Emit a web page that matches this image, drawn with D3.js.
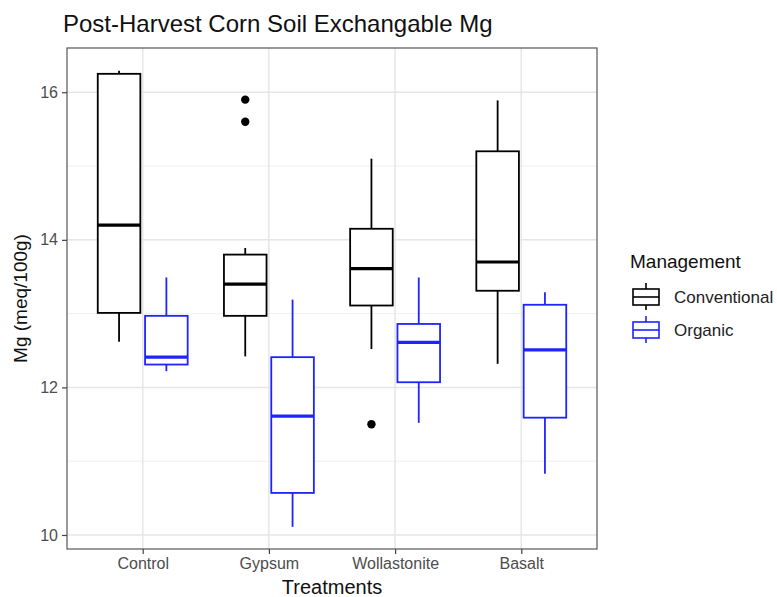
<!DOCTYPE html>
<html>
<head>
<meta charset="utf-8">
<script src="https://cdn.jsdelivr.net/npm/d3@7"></script>
<style>
  body { margin: 0; background: #fff; }
  text { font-family: "Liberation Sans", Arial, sans-serif; }
</style>
</head>
<body>
<svg width="777" height="597"></svg>
<script>
var treatments = ["Control", "Gypsum", "Wollastonite", "Basalt"];
var management = ["Conventional", "Organic"];
var yTicks = [10, 12, 14, 16];
var yMinor = [11, 13, 15];

// [lower whisker, q1, median, q3, upper whisker] per treatment
var conventionalStats = [
  [12.62, 13.01, 14.2, 16.25, 16.29],
  [12.42, 12.97, 13.4, 13.8, 13.89],
  [12.52, 13.11, 13.61, 14.15, 15.1],
  [12.32, 13.31, 13.7, 15.2, 15.89]
];
var organicStats = [
  [12.22, 12.31, 12.41, 12.97, 13.49],
  [10.11, 10.57, 11.61, 12.41, 13.19],
  [11.52, 12.07, 12.61, 12.86, 13.49],
  [10.83, 11.59, 12.51, 13.12, 13.29]
];
var outlierTreatment = ["Gypsum", "Gypsum", "Wollastonite"];
var outlierValue = [15.9, 15.6, 11.5];

var svg = d3.select("svg"),
    pLeft = 67, pRight = 597, pTop = 48, pBottom = 549;

var color = d3.scaleOrdinal()
    .domain(management)
    .range(["#000000", "#1f24ff"]);

var x = d3.scalePoint()
    .domain(treatments)
    .range([pLeft, pRight])
    .padding(0.6);

var dodge = d3.scaleBand()
    .domain(management)
    .range([-0.375 * x.step(), 0.375 * x.step()])
    .paddingInner(0.1)
    .paddingOuter(0.05);

var y = d3.scaleLinear()
    .domain([9.81, 16.6])
    .range([pBottom, pTop]);

// grid
var grid = svg.append("g");
grid.selectAll(".minor").data(yMinor).enter().append("line")
    .attr("x1", pLeft).attr("x2", pRight)
    .attr("y1", function(d) { return y(d); }).attr("y2", function(d) { return y(d); })
    .attr("stroke", "#f0f0f0").attr("stroke-width", 1);
grid.selectAll(".major").data(yTicks).enter().append("line")
    .attr("x1", pLeft).attr("x2", pRight)
    .attr("y1", function(d) { return y(d); }).attr("y2", function(d) { return y(d); })
    .attr("stroke", "#e6e6e6").attr("stroke-width", 1.5);
grid.selectAll(".vmajor").data(treatments).enter().append("line")
    .attr("y1", pTop).attr("y2", pBottom)
    .attr("x1", function(d) { return x(d); }).attr("x2", function(d) { return x(d); })
    .attr("stroke", "#e6e6e6").attr("stroke-width", 1.5);

// boxes
var rows = [];
treatments.forEach(function(t, i) {
  rows.push({ t: t, m: "Conventional", s: conventionalStats[i] });
  rows.push({ t: t, m: "Organic", s: organicStats[i] });
});

function cx(d) { return x(d.t) + dodge(d.m) + dodge.bandwidth() / 2; }

var box = svg.append("g").selectAll("g")
    .data(rows)
    .enter().append("g")
    .attr("stroke", function(d) { return color(d.m); })
    .attr("fill", "none");

box.append("line")
    .attr("x1", cx).attr("x2", cx)
    .attr("y1", function(d) { return y(d.s[0]); })
    .attr("y2", function(d) { return y(d.s[1]); })
    .attr("stroke-width", 1.8);
box.append("line")
    .attr("x1", cx).attr("x2", cx)
    .attr("y1", function(d) { return y(d.s[3]); })
    .attr("y2", function(d) { return y(d.s[4]); })
    .attr("stroke-width", 1.8);
box.append("rect")
    .attr("x", function(d) { return x(d.t) + dodge(d.m); })
    .attr("width", dodge.bandwidth())
    .attr("y", function(d) { return y(d.s[3]); })
    .attr("height", function(d) { return y(d.s[1]) - y(d.s[3]); })
    .attr("fill", "#fff")
    .attr("stroke-width", 1.8);
box.append("line")
    .attr("x1", function(d) { return x(d.t) + dodge(d.m); })
    .attr("x2", function(d) { return x(d.t) + dodge(d.m) + dodge.bandwidth(); })
    .attr("y1", function(d) { return y(d.s[2]); })
    .attr("y2", function(d) { return y(d.s[2]); })
    .attr("stroke-width", 3.2);

svg.append("g").selectAll("circle")
    .data(outlierValue)
    .enter().append("circle")
    .attr("cx", function(d, i) { return x(outlierTreatment[i]) + dodge("Conventional") + dodge.bandwidth() / 2; })
    .attr("cy", function(d) { return y(d); })
    .attr("r", 4.2)
    .attr("fill", "#000");

// panel border
svg.append("rect")
    .attr("x", pLeft).attr("y", pTop)
    .attr("width", pRight - pLeft).attr("height", pBottom - pTop)
    .attr("fill", "none").attr("stroke", "#555").attr("stroke-width", 1.2);

// axes
var yAxis = svg.append("g")
    .attr("transform", "translate(" + pLeft + ",0)")
    .call(d3.axisLeft(y).tickValues(yTicks).tickFormat(d3.format("d")).tickSize(5).tickPadding(4));
var xAxis = svg.append("g")
    .attr("transform", "translate(0," + pBottom + ")")
    .call(d3.axisBottom(x).tickSize(5).tickPadding(4));
[xAxis, yAxis].forEach(function(a) {
  a.select(".domain").remove();
  a.selectAll(".tick line").attr("stroke", "#444").attr("stroke-width", 1.2);
  a.selectAll(".tick text").attr("fill", "#4d4d4d")
      .style("font-size", "16px").style("font-family", "Liberation Sans, Arial, sans-serif");
});

// titles
svg.append("text")
    .attr("x", 63).attr("y", 32)
    .style("font-size", "24px").attr("fill", "#111")
    .text("Post-Harvest Corn Soil Exchangable Mg");
svg.append("text")
    .attr("x", (pLeft + pRight) / 2).attr("y", 594)
    .attr("text-anchor", "middle")
    .style("font-size", "20px").attr("fill", "#111")
    .text("Treatments");
svg.append("text")
    .attr("transform", "translate(27," + (pTop + pBottom) / 2 + ") rotate(-90)")
    .attr("text-anchor", "middle")
    .style("font-size", "19px").attr("fill", "#111")
    .text("Mg (meq/100g)");

// legend
var legend = svg.append("g").attr("transform", "translate(630,0)");
legend.append("text")
    .attr("x", 0).attr("y", 268)
    .style("font-size", "19px").attr("fill", "#111")
    .text("Management");
var item = legend.selectAll(".item")
    .data(management)
    .enter().append("g")
    .attr("transform", function(d, i) { return "translate(0," + (297 + i * 33) + ")"; });
item.append("line")
    .attr("x1", 16).attr("x2", 16).attr("y1", -14).attr("y2", 13)
    .attr("stroke", function(d) { return color(d); }).attr("stroke-width", 1.6);
item.append("rect")
    .attr("x", 3).attr("y", -8).attr("width", 26).attr("height", 16)
    .attr("fill", "#fff")
    .attr("stroke", function(d) { return color(d); }).attr("stroke-width", 1.6);
item.append("line")
    .attr("x1", 3).attr("x2", 29).attr("y1", 0).attr("y2", 0)
    .attr("stroke", function(d) { return color(d); }).attr("stroke-width", 1.6);
item.append("text")
    .attr("x", 44).attr("y", 6)
    .style("font-size", "17px").attr("fill", "#222")
    .text(function(d) { return d; });
</script>
</body>
</html>
